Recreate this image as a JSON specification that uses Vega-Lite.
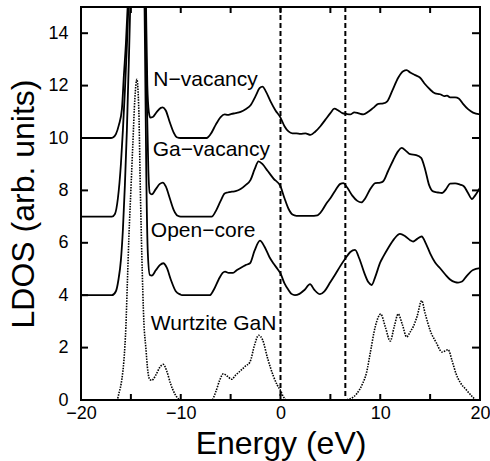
{
  "$schema": "https://vega.github.io/schema/vega-lite/v6.json",
  "autosize": {"type": "none"},
  "width": 399,
  "height": 393,
  "padding": {"left": 81, "top": 7, "right": 10, "bottom": 61},
  "background": "white",
  "config": {
    "font": "Liberation Sans",
    "view": {"stroke": "black", "strokeWidth": 2},
    "axis": {"grid": false, "domain": false, "labelColor": "black", "titleColor": "black", "labelFont": "Liberation Sans", "titleFont": "Liberation Sans", "titleFontWeight": "normal"}
  },
  "datasets": {
    "curves": [
      {"s":"N","E":-20,"v":10},{"s":"N","E":-17,"v":10},{"s":"N","E":-16.8,"v":10.02},{"s":"N","E":-16.5,"v":10.15},{"s":"N","E":-16.2,"v":10.5},{"s":"N","E":-15.9,"v":11.1},{"s":"N","E":-15.7,"v":12.4},{"s":"N","E":-15.5,"v":13.6},{"s":"N","E":-15.3,"v":15.2},{"s":"N","E":-15.1,"v":17},{"s":"N","E":-14.9,"v":20},{"s":"N","E":-14.75,"v":23},{"s":"N","E":-14.55,"v":22},{"s":"N","E":-14.35,"v":20},{"s":"N","E":-14.15,"v":21},{"s":"N","E":-13.9,"v":24},{"s":"N","E":-13.7,"v":20},{"s":"N","E":-13.5,"v":15.5},{"s":"N","E":-13.35,"v":12},{"s":"N","E":-13.2,"v":11},{"s":"N","E":-13.05,"v":10.78},{"s":"N","E":-12.8,"v":10.8},{"s":"N","E":-12.4,"v":11.0},{"s":"N","E":-12.0,"v":11.15},{"s":"N","E":-11.8,"v":11.17},{"s":"N","E":-11.5,"v":11.05},{"s":"N","E":-11.1,"v":10.6},{"s":"N","E":-10.7,"v":10.2},{"s":"N","E":-10.4,"v":10.03},{"s":"N","E":-10,"v":10},{"s":"N","E":-7.4,"v":10},{"s":"N","E":-7.0,"v":10.15},{"s":"N","E":-6.5,"v":10.5},{"s":"N","E":-6.0,"v":10.8},{"s":"N","E":-5.6,"v":10.9},{"s":"N","E":-5.3,"v":10.88},{"s":"N","E":-4.9,"v":10.92},{"s":"N","E":-4.5,"v":10.95},{"s":"N","E":-4.0,"v":11.0},{"s":"N","E":-3.5,"v":11.1},{"s":"N","E":-3.0,"v":11.25},{"s":"N","E":-2.5,"v":11.6},{"s":"N","E":-2.1,"v":11.9},{"s":"N","E":-1.8,"v":11.96},{"s":"N","E":-1.5,"v":11.8},{"s":"N","E":-1.0,"v":11.4},{"s":"N","E":-0.5,"v":11.05},{"s":"N","E":0,"v":10.78},{"s":"N","E":0.4,"v":10.45},{"s":"N","E":0.8,"v":10.25},{"s":"N","E":1.2,"v":10.18},{"s":"N","E":1.6,"v":10.18},{"s":"N","E":2.0,"v":10.16},{"s":"N","E":2.5,"v":10.18},{"s":"N","E":3.0,"v":10.12},{"s":"N","E":3.5,"v":10.25},{"s":"N","E":4.0,"v":10.45},{"s":"N","E":4.5,"v":10.7},{"s":"N","E":5.0,"v":10.95},{"s":"N","E":5.4,"v":11.12},{"s":"N","E":5.8,"v":11.05},{"s":"N","E":6.2,"v":10.95},{"s":"N","E":6.6,"v":10.92},{"s":"N","E":7.0,"v":10.9},{"s":"N","E":7.4,"v":10.98},{"s":"N","E":7.7,"v":10.96},{"s":"N","E":8.0,"v":10.92},{"s":"N","E":8.3,"v":10.9},{"s":"N","E":8.8,"v":11.0},{"s":"N","E":9.3,"v":11.15},{"s":"N","E":9.8,"v":11.3},{"s":"N","E":10.3,"v":11.32},{"s":"N","E":10.7,"v":11.4},{"s":"N","E":11.2,"v":11.8},{"s":"N","E":11.8,"v":12.3},{"s":"N","E":12.3,"v":12.55},{"s":"N","E":12.65,"v":12.59},{"s":"N","E":13.0,"v":12.5},{"s":"N","E":13.5,"v":12.4},{"s":"N","E":14.0,"v":12.3},{"s":"N","E":14.5,"v":12.05},{"s":"N","E":15.0,"v":11.85},{"s":"N","E":15.5,"v":11.7},{"s":"N","E":16.0,"v":11.67},{"s":"N","E":16.4,"v":11.6},{"s":"N","E":16.7,"v":11.62},{"s":"N","E":17.0,"v":11.55},{"s":"N","E":17.5,"v":11.55},{"s":"N","E":17.9,"v":11.5},{"s":"N","E":18.3,"v":11.3},{"s":"N","E":18.8,"v":11.1},{"s":"N","E":19.3,"v":10.97},{"s":"N","E":20,"v":10.9},
      {"s":"G","E":-20,"v":7},{"s":"G","E":-16.9,"v":7},{"s":"G","E":-16.6,"v":7.1},{"s":"G","E":-16.3,"v":7.7},{"s":"G","E":-16.0,"v":9.0},{"s":"G","E":-15.8,"v":10.3},{"s":"G","E":-15.6,"v":11.8},{"s":"G","E":-15.4,"v":13.5},{"s":"G","E":-15.2,"v":15.5},{"s":"G","E":-15.0,"v":18},{"s":"G","E":-14.8,"v":22},{"s":"G","E":-14.6,"v":24},{"s":"G","E":-14.4,"v":21},{"s":"G","E":-14.2,"v":20},{"s":"G","E":-14.0,"v":22},{"s":"G","E":-13.8,"v":21},{"s":"G","E":-13.6,"v":16},{"s":"G","E":-13.4,"v":11.5},{"s":"G","E":-13.25,"v":8.8},{"s":"G","E":-13.1,"v":7.9},{"s":"G","E":-12.9,"v":7.85},{"s":"G","E":-12.5,"v":8.05},{"s":"G","E":-12.1,"v":8.25},{"s":"G","E":-11.8,"v":8.3},{"s":"G","E":-11.5,"v":8.15},{"s":"G","E":-11.1,"v":7.7},{"s":"G","E":-10.7,"v":7.25},{"s":"G","E":-10.3,"v":7.03},{"s":"G","E":-10,"v":7},{"s":"G","E":-6.9,"v":7},{"s":"G","E":-6.5,"v":7.2},{"s":"G","E":-6.0,"v":7.6},{"s":"G","E":-5.6,"v":7.88},{"s":"G","E":-5.3,"v":7.92},{"s":"G","E":-4.9,"v":7.95},{"s":"G","E":-4.5,"v":7.97},{"s":"G","E":-4.0,"v":8.05},{"s":"G","E":-3.5,"v":8.2},{"s":"G","E":-3.0,"v":8.4},{"s":"G","E":-2.6,"v":8.8},{"s":"G","E":-2.2,"v":9.11},{"s":"G","E":-1.8,"v":9.0},{"s":"G","E":-1.3,"v":8.75},{"s":"G","E":-0.7,"v":8.45},{"s":"G","E":0,"v":8.15},{"s":"G","E":0.4,"v":7.7},{"s":"G","E":0.8,"v":7.3},{"s":"G","E":1.2,"v":7.08},{"s":"G","E":1.6,"v":7.03},{"s":"G","E":3.0,"v":7.03},{"s":"G","E":3.7,"v":7.05},{"s":"G","E":4.2,"v":7.25},{"s":"G","E":4.6,"v":7.5},{"s":"G","E":5.0,"v":7.7},{"s":"G","E":5.5,"v":8.0},{"s":"G","E":6.0,"v":8.25},{"s":"G","E":6.3,"v":8.28},{"s":"G","E":6.7,"v":8.1},{"s":"G","E":7.2,"v":7.8},{"s":"G","E":7.7,"v":7.6},{"s":"G","E":8.1,"v":7.54},{"s":"G","E":8.5,"v":7.7},{"s":"G","E":9.0,"v":8.05},{"s":"G","E":9.5,"v":8.28},{"s":"G","E":10.0,"v":8.3},{"s":"G","E":10.3,"v":8.35},{"s":"G","E":10.8,"v":8.75},{"s":"G","E":11.3,"v":9.15},{"s":"G","E":11.8,"v":9.5},{"s":"G","E":12.15,"v":9.62},{"s":"G","E":12.6,"v":9.5},{"s":"G","E":13.0,"v":9.38},{"s":"G","E":13.6,"v":9.35},{"s":"G","E":14.1,"v":9.24},{"s":"G","E":14.5,"v":8.8},{"s":"G","E":14.9,"v":8.2},{"s":"G","E":15.3,"v":7.96},{"s":"G","E":15.8,"v":7.92},{"s":"G","E":16.2,"v":7.9},{"s":"G","E":16.6,"v":8.05},{"s":"G","E":17.0,"v":8.26},{"s":"G","E":17.5,"v":8.27},{"s":"G","E":18.0,"v":8.22},{"s":"G","E":18.4,"v":8.15},{"s":"G","E":18.8,"v":7.9},{"s":"G","E":19.2,"v":7.67},{"s":"G","E":19.5,"v":7.8},{"s":"G","E":20,"v":8.1},
      {"s":"O","E":-20,"v":4},{"s":"O","E":-16.9,"v":4},{"s":"O","E":-16.5,"v":4.15},{"s":"O","E":-16.25,"v":4.58},{"s":"O","E":-16.0,"v":5.34},{"s":"O","E":-15.8,"v":6.5},{"s":"O","E":-15.6,"v":8.2},{"s":"O","E":-15.4,"v":10.3},{"s":"O","E":-15.2,"v":13},{"s":"O","E":-15.0,"v":16},{"s":"O","E":-14.8,"v":20},{"s":"O","E":-14.6,"v":23},{"s":"O","E":-14.4,"v":20},{"s":"O","E":-14.2,"v":19},{"s":"O","E":-14.0,"v":22},{"s":"O","E":-13.8,"v":20},{"s":"O","E":-13.6,"v":14},{"s":"O","E":-13.45,"v":8.5},{"s":"O","E":-13.3,"v":5.6},{"s":"O","E":-13.1,"v":4.77},{"s":"O","E":-12.9,"v":4.75},{"s":"O","E":-12.5,"v":4.95},{"s":"O","E":-12.1,"v":5.15},{"s":"O","E":-11.75,"v":5.22},{"s":"O","E":-11.4,"v":5.05},{"s":"O","E":-11.0,"v":4.6},{"s":"O","E":-10.5,"v":4.15},{"s":"O","E":-10.0,"v":4.02},{"s":"O","E":-9.9,"v":4},{"s":"O","E":-7.1,"v":4},{"s":"O","E":-6.7,"v":4.2},{"s":"O","E":-6.2,"v":4.6},{"s":"O","E":-5.8,"v":4.85},{"s":"O","E":-5.56,"v":4.9},{"s":"O","E":-5.2,"v":4.85},{"s":"O","E":-4.76,"v":4.85},{"s":"O","E":-4.4,"v":4.95},{"s":"O","E":-4.06,"v":5.03},{"s":"O","E":-3.5,"v":5.15},{"s":"O","E":-3.06,"v":5.22},{"s":"O","E":-2.6,"v":5.7},{"s":"O","E":-2.06,"v":6.08},{"s":"O","E":-1.6,"v":5.85},{"s":"O","E":-1.1,"v":5.45},{"s":"O","E":-0.72,"v":5.22},{"s":"O","E":-0.3,"v":5.0},{"s":"O","E":0,"v":4.83},{"s":"O","E":0.4,"v":4.45},{"s":"O","E":0.8,"v":4.2},{"s":"O","E":1.1,"v":4.05},{"s":"O","E":1.45,"v":4.0},{"s":"O","E":1.9,"v":4.05},{"s":"O","E":2.4,"v":4.2},{"s":"O","E":2.96,"v":4.42},{"s":"O","E":3.4,"v":4.2},{"s":"O","E":3.96,"v":4.04},{"s":"O","E":4.4,"v":4.15},{"s":"O","E":5.0,"v":4.5},{"s":"O","E":5.5,"v":4.8},{"s":"O","E":5.96,"v":5.09},{"s":"O","E":6.5,"v":5.4},{"s":"O","E":7.0,"v":5.65},{"s":"O","E":7.47,"v":5.73},{"s":"O","E":7.9,"v":5.4},{"s":"O","E":8.4,"v":4.85},{"s":"O","E":8.8,"v":4.5},{"s":"O","E":9.14,"v":4.39},{"s":"O","E":9.5,"v":4.7},{"s":"O","E":10.0,"v":5.25},{"s":"O","E":10.3,"v":5.47},{"s":"O","E":10.8,"v":5.8},{"s":"O","E":11.4,"v":6.15},{"s":"O","E":11.98,"v":6.34},{"s":"O","E":12.5,"v":6.25},{"s":"O","E":13.0,"v":6.1},{"s":"O","E":13.3,"v":6.05},{"s":"O","E":13.7,"v":6.15},{"s":"O","E":14.15,"v":6.24},{"s":"O","E":14.6,"v":5.95},{"s":"O","E":15.0,"v":5.6},{"s":"O","E":15.5,"v":5.25},{"s":"O","E":16.0,"v":5.03},{"s":"O","E":16.5,"v":4.8},{"s":"O","E":17.0,"v":4.6},{"s":"O","E":17.5,"v":4.5},{"s":"O","E":17.8,"v":4.48},{"s":"O","E":18.2,"v":4.52},{"s":"O","E":18.7,"v":4.75},{"s":"O","E":19.3,"v":4.96},{"s":"O","E":20,"v":5.03}
    ],
    "wurtzite": [
      {"E":-20,"v":0},{"E":-16.4,"v":0},{"E":-16.2,"v":0.25},{"E":-15.9,"v":0.8},{"E":-15.7,"v":1.5},{"E":-15.5,"v":2.8},{"E":-15.35,"v":4.5},{"E":-15.2,"v":6.2},{"E":-15.0,"v":8.0},{"E":-14.8,"v":9.8},{"E":-14.6,"v":11.5},{"E":-14.4,"v":12.24},{"E":-14.2,"v":11.0},{"E":-14.05,"v":8.0},{"E":-13.9,"v":5.5},{"E":-13.7,"v":3.0},{"E":-13.5,"v":2.0},{"E":-13.3,"v":1.1},{"E":-13.1,"v":0.78},{"E":-12.9,"v":0.75},{"E":-12.5,"v":0.95},{"E":-12.1,"v":1.25},{"E":-11.75,"v":1.36},{"E":-11.4,"v":1.1},{"E":-11.0,"v":0.6},{"E":-10.6,"v":0.24},{"E":-10.2,"v":0.03},{"E":-10,"v":0},{"E":-6.9,"v":0},{"E":-6.5,"v":0.3},{"E":-6.1,"v":0.75},{"E":-5.73,"v":1.0},{"E":-5.3,"v":0.9},{"E":-4.9,"v":0.79},{"E":-4.5,"v":0.95},{"E":-4.06,"v":1.1},{"E":-3.5,"v":1.3},{"E":-3.06,"v":1.45},{"E":-2.6,"v":2.1},{"E":-2.2,"v":2.47},{"E":-1.8,"v":2.3},{"E":-1.3,"v":1.6},{"E":-0.7,"v":0.9},{"E":-0.3,"v":0.55},{"E":0,"v":0.36},{"E":0.3,"v":0.12},{"E":0.6,"v":0},{"E":6.3,"v":0},{"E":7.0,"v":0.05},{"E":7.64,"v":0.24},{"E":8.2,"v":0.6},{"E":8.64,"v":1.07},{"E":9.0,"v":1.8},{"E":9.5,"v":2.8},{"E":10.05,"v":3.28},{"E":10.5,"v":2.8},{"E":11.0,"v":2.25},{"E":11.4,"v":2.8},{"E":11.8,"v":3.28},{"E":12.2,"v":2.9},{"E":12.65,"v":2.41},{"E":13.0,"v":2.6},{"E":13.3,"v":2.79},{"E":13.7,"v":3.2},{"E":14.15,"v":3.79},{"E":14.5,"v":3.3},{"E":15.0,"v":2.66},{"E":15.6,"v":2.2},{"E":16.2,"v":1.83},{"E":16.8,"v":1.92},{"E":17.2,"v":1.5},{"E":17.6,"v":1.0},{"E":18.0,"v":0.68},{"E":18.6,"v":0.4},{"E":19.3,"v":0.1},{"E":19.6,"v":0},{"E":20,"v":0}
    ],
    "edges": [{"E":0},{"E":6.5}],
    "xticks": [{"E":-15},{"E":-10},{"E":-5},{"E":0},{"E":5},{"E":10},{"E":15}],
    "yticks": [{"v":2},{"v":4},{"v":6},{"v":8},{"v":10},{"v":12},{"v":14}],
    "labels": [
      {"t":"N−vacancy","E":-12.75,"v":11.98},
      {"t":"Ga−vacancy","E":-12.81,"v":9.3},
      {"t":"Open−core","E":-13.0,"v":6.24},
      {"t":"Wurtzite GaN","E":-13.0,"v":2.66}
    ]
  },
  "layer": [
    {
      "data": {"name": "curves"},
      "mark": {"type": "line", "color": "black", "strokeWidth": 1.8, "clip": true, "interpolate": "monotone"},
      "encoding": {
        "x": {"field": "E", "type": "quantitative", "scale": {"domain": [-20, 20], "nice": false, "zero": false},
          "axis": {"orient": "bottom", "values": [-20,-10,0,10,20], "ticks": false, "labelPadding": 4, "labelFontSize": 18, "labelBaseline": "top", "labelFlush": false, "title": "Energy (eV)", "titleFontSize": 32, "titleX": 199.5, "titleY": 53, "titleBaseline": "alphabetic", "titleAlign": "center"}},
        "y": {"field": "v", "type": "quantitative", "scale": {"domain": [0, 15], "nice": false},
          "axis": {"orient": "left", "values": [0,2,4,6,8,10,12,14], "ticks": false, "labelPadding": 13, "labelFontSize": 18, "labelFlush": false, "title": "LDOS (arb. units)", "titleFontSize": 32, "titleAngle": -90, "titleX": -48, "titleY": 196.5, "titleBaseline": "alphabetic", "titleAlign": "center"}},
        "detail": {"field": "s"}
      }
    },
    {
      "data": {"name": "wurtzite"},
      "mark": {"type": "line", "color": "black", "strokeWidth": 1.6, "strokeDash": [1.5, 1.2], "clip": true, "interpolate": "monotone"},
      "encoding": {
        "x": {"field": "E", "type": "quantitative", "axis": null},
        "y": {"field": "v", "type": "quantitative", "axis": null}
      }
    },
    {
      "data": {"name": "edges"},
      "mark": {"type": "rule", "color": "black", "strokeWidth": 2, "strokeDash": [5, 3]},
      "encoding": {
        "x": {"field": "E", "type": "quantitative", "axis": null}
      }
    },
    {
      "data": {"name": "xticks"},
      "mark": {"type": "rule", "color": "black", "strokeWidth": 2},
      "encoding": {
        "x": {"field": "E", "type": "quantitative", "axis": null},
        "y": {"datum": 0, "type": "quantitative", "axis": null},
        "y2": {"datum": 0.23}
      }
    },
    {
      "data": {"name": "xticks"},
      "mark": {"type": "rule", "color": "black", "strokeWidth": 2},
      "encoding": {
        "x": {"field": "E", "type": "quantitative", "axis": null},
        "y": {"datum": 15, "type": "quantitative", "axis": null},
        "y2": {"datum": 14.77}
      }
    },
    {
      "data": {"name": "yticks"},
      "mark": {"type": "rule", "color": "black", "strokeWidth": 2},
      "encoding": {
        "y": {"field": "v", "type": "quantitative", "axis": null},
        "x": {"datum": -20, "type": "quantitative", "axis": null},
        "x2": {"datum": -19.3}
      }
    },
    {
      "data": {"name": "yticks"},
      "mark": {"type": "rule", "color": "black", "strokeWidth": 2},
      "encoding": {
        "y": {"field": "v", "type": "quantitative", "axis": null},
        "x": {"datum": 20, "type": "quantitative", "axis": null},
        "x2": {"datum": 19.2}
      }
    },
    {
      "data": {"name": "labels"},
      "mark": {"type": "text", "align": "left", "baseline": "alphabetic", "fontSize": 21, "font": "Liberation Sans", "color": "black"},
      "encoding": {
        "x": {"field": "E", "type": "quantitative", "axis": null},
        "y": {"field": "v", "type": "quantitative", "axis": null},
        "text": {"field": "t"}
      }
    }
  ],
  "resolve": {"axis": {"x": "independent", "y": "independent"}}
}
